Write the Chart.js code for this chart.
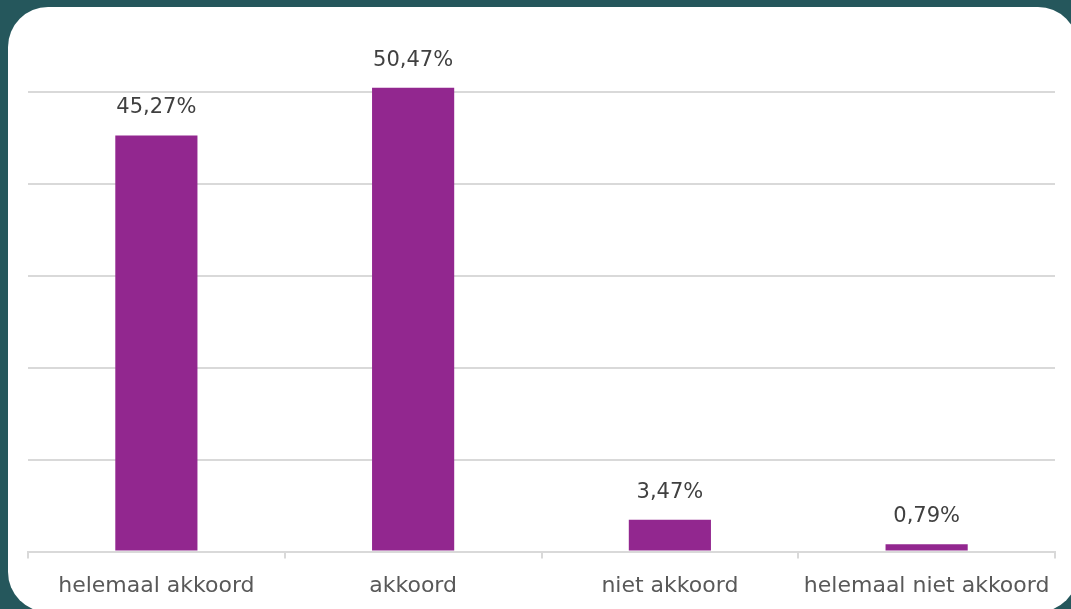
<!DOCTYPE html>
<html>
<head>
<meta charset="utf-8">
<script src="https://cdn.jsdelivr.net/npm/chart.js@4/dist/chart.umd.min.js"></script>
<style>
  html, body { margin: 0; padding: 0; width: 1071px; height: 609px; overflow: hidden; background: #25575c; }
  #panel { position: absolute; left: 8px; top: 7px; width: 1070px; height: 605px; background: #fff; border-radius: 40px; }
  #wrap { position: absolute; left: 0; top: 0; width: 1071px; height: 613px; }
</style>
</head>
<body>
<div id="panel"></div>
<div id="wrap"><canvas id="chart"></canvas></div>
<script>
// answers and their share of respondents (%)
const categories = ["helemaal akkoord", "akkoord", "niet akkoord", "helemaal niet akkoord"];
const shares = [45.27, 50.47, 3.47, 0.79];
const yTicks = [0, 10, 20, 30, 40, 50];

const FONT = "'DejaVu Sans', 'Open Sans', sans-serif";
const fmt = (v) => v.toFixed(2).replace(".", ",") + "%";

/* value labels above each bar (no datalabels plugin offline) */
const valueLabels = {
  id: "valueLabels",
  afterDatasetsDraw(chart) {
    const { ctx } = chart;
    const meta = chart.getDatasetMeta(0);
    ctx.save();
    ctx.font = "21px " + FONT;
    ctx.fillStyle = "#404040";
    ctx.textAlign = "center";
    ctx.textBaseline = "bottom";
    meta.data.forEach((bar, i) => {
      ctx.fillText(fmt(shares[i]), bar.x, bar.y - 17);
    });
    ctx.restore();
  },
};

new Chart(document.getElementById("chart").getContext("2d"), {
  type: "bar",
  data: {
    labels: categories,
    datasets: [{
      data: shares,
      backgroundColor: "#92278f",
      borderWidth: 0,
      categoryPercentage: 1,
      barPercentage: 0.32,
      clip: false,
    }],
  },
  plugins: [valueLabels],
  options: {
    responsive: true,
    maintainAspectRatio: false,
    animation: false,
    layout: { padding: { top: 92, left: 28, right: 16, bottom: 0 } },
    plugins: { legend: { display: false }, tooltip: { enabled: false } },
    scales: {
      x: {
        grid: { offset: true, drawOnChartArea: false, drawTicks: true, tickLength: 7, color: "#d9d9d9", lineWidth: 2 },
        border: { color: "#d9d9d9", width: 2 },
        ticks: { color: "#595959", font: { family: FONT, size: 22 }, padding: 14, maxRotation: 0 },
      },
      y: {
        min: 0,
        max: 50,
        afterBuildTicks: (s) => { s.ticks = yTicks.map((v) => ({ value: v })); },
        grid: { color: "#d9d9d9", lineWidth: 2, drawTicks: false },
        border: { display: false },
        ticks: { display: false },
      },
    },
  },
});
</script>
</body>
</html>
